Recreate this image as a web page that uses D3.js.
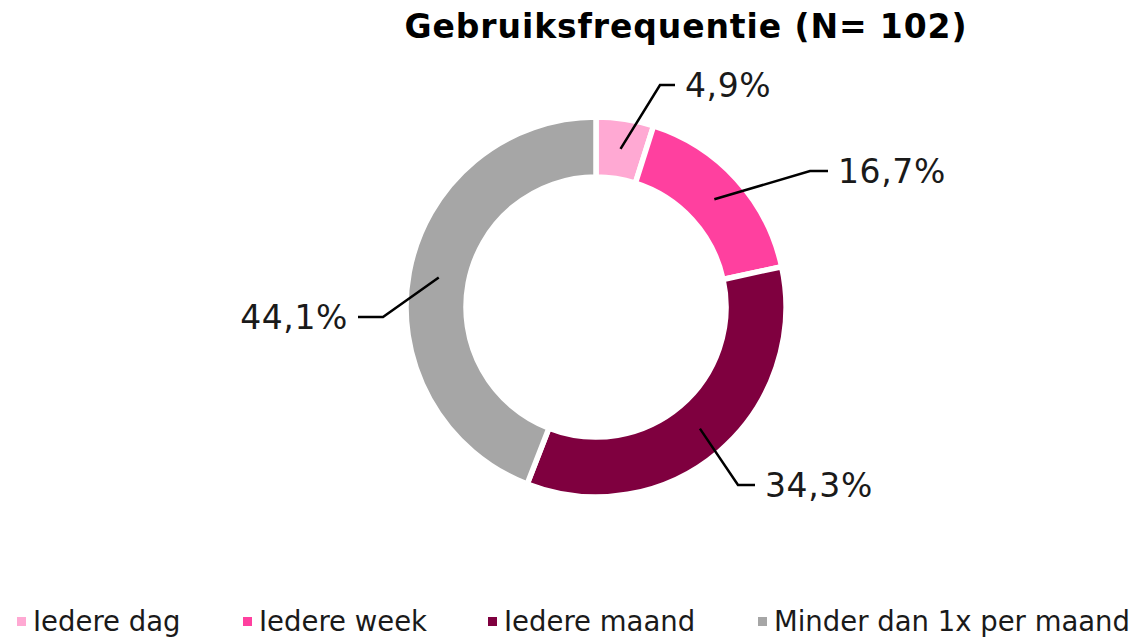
<!DOCTYPE html>
<html>
<head>
<meta charset="utf-8">
<script src="https://cdn.jsdelivr.net/npm/d3@7"></script>
<style>
  body { margin: 0; background: #fff; }
  svg { display: block; font-family: "DejaVu Sans", Verdana, sans-serif; }
</style>
</head>
<body>
<div id="chart"></div>
<script>
// data
var categories = ["Iedere dag", "Iedere week", "Iedere maand", "Minder dan 1x per maand"];
var values = [4.9, 16.7, 34.3, 44.1];
var labels = ["4,9%", "16,7%", "34,3%", "44,1%"];
var colors = ["#FFA9D3", "#FF409F", "#7F003F", "#A6A6A6"];
var title = "Gebruiksfrequentie (N= 102)";

// layout
var width = 1140, height = 639;
var cx = 596, cy = 307;
var outerR = 190, innerR = 130;
// where each leader line bends (relative to the centre) and how long the flat tail is
var elbows = [[64, -222], [214, -136], [142, 178], [-213, 10]];
var tails = [15, 18, 17, 25];

var svg = d3.select("#chart")
	.append("svg")
	.attr("width", width)
	.attr("height", height);

svg.append("text")
	.attr("x", 686)
	.attr("y", 38)
	.attr("text-anchor", "middle")
	.attr("font-size", 33)
	.attr("font-weight", "bold")
	.attr("letter-spacing", 0.9)
	.attr("fill", "#000")
	.text(title);

var pie = d3.pie().sort(null).value(function(d){ return d; });
var arc = d3.arc().innerRadius(innerR).outerRadius(outerR);
var arcs = pie(values);

var g = svg.append("g")
	.attr("transform", "translate(" + cx + "," + cy + ")");

g.selectAll("path")
	.data(arcs)
	.enter()
	.append("path")
	.attr("d", arc)
	.attr("fill", function(d, i){ return colors[i]; })
	.attr("stroke", "#fff")
	.attr("stroke-width", 5.5);

// leader lines + labels
arcs.forEach(function(d, i){
	var c = arc.centroid(d);
	var e = elbows[i];
	var dir = e[0] < 0 ? -1 : 1;
	var end = e[0] + dir * tails[i];
	g.append("polyline")
		.attr("points", [c, e, [end, e[1]]].map(function(p){ return p.join(","); }).join(" "))
		.attr("fill", "none")
		.attr("stroke", "#000")
		.attr("stroke-width", 2.5);
	g.append("text")
		.attr("x", end + dir * 10)
		.attr("y", e[1])
		.attr("dy", "0.36em")
		.attr("text-anchor", dir < 0 ? "end" : "start")
		.attr("font-size", 33)
		.attr("letter-spacing", 0.6)
		.attr("fill", "#1a1a1a")
		.text(labels[i]);
});

// legend
var legendX = [17, 243, 488, 758];
var legend = svg.append("g");
categories.forEach(function(name, i){
	legend.append("rect")
		.attr("x", legendX[i])
		.attr("y", 617)
		.attr("width", 9)
		.attr("height", 9)
		.attr("fill", colors[i]);
	legend.append("text")
		.attr("x", legendX[i] + 16)
		.attr("y", 631)
		.attr("font-size", 27.5)
		.attr("fill", "#1a1a1a")
		.text(name);
});
</script>
</body>
</html>
